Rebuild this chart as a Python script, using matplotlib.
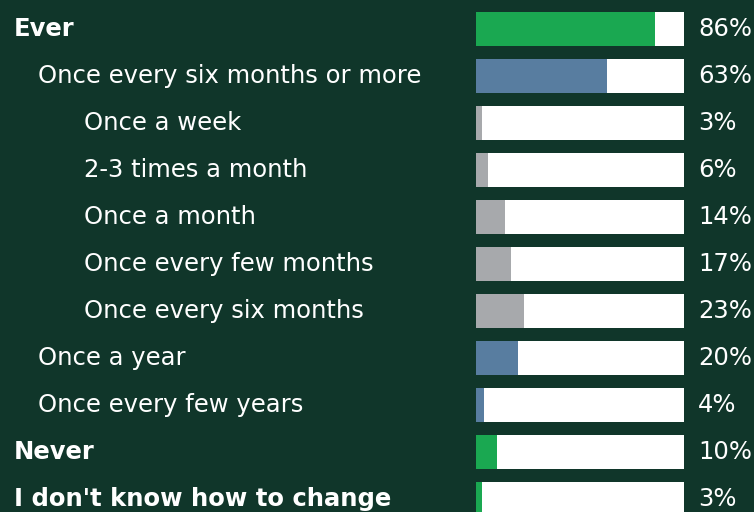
import matplotlib.pyplot as plt
import matplotlib.transforms as mtransforms

labels = ['Ever', 'Once every six months or more', 'Once a week', '2-3 times a month',
          'Once a month', 'Once every few months', 'Once every six months',
          'Once a year', 'Once every few years', 'Never', "I don't know how to change"]
values = [86, 63, 3, 6, 14, 17, 23, 20, 4, 10, 3]
levels = [0, 1, 2, 2, 2, 2, 2, 1, 1, 0, 0]

BG = '#10362a'
level_colors = {0: '#1aa851', 1: '#587da0', 2: '#a7a9ac'}
indent_px = {0: 14, 1: 38, 2: 84}

W, H = 754, 512
fig = plt.figure(figsize=(W / 100, H / 100), dpi=100, facecolor=BG)
ax = fig.add_axes([476 / W, 0, 208 / W, 1])
ax.set_facecolor(BG)

rows = list(range(len(labels)))
ax.barh(rows, [100] * len(rows), height=0.72, color='white', left=0)
ax.barh(rows, values, height=0.72, color=[level_colors[l] for l in levels], left=0)
ax.set_xlim(0, 100)
ax.set_ylim((H - 29) / 47, -29 / 47)
ax.axis('off')

trans = mtransforms.blended_transform_factory(fig.transFigure, ax.transData)
for i, (lab, v, lvl) in enumerate(zip(labels, values, levels)):
    fig.text(indent_px[lvl] / W, i, lab, transform=trans, va='center', ha='left',
             color='white', fontsize=17.5, family='DejaVu Sans',
             fontweight='bold' if lvl == 0 else 'normal')
    fig.text(698 / W, i, f'{v}%', transform=trans, va='center', ha='left',
             color='white', fontsize=17.5, family='DejaVu Sans')

fig.savefig('out.png', dpi=100, facecolor=BG)
